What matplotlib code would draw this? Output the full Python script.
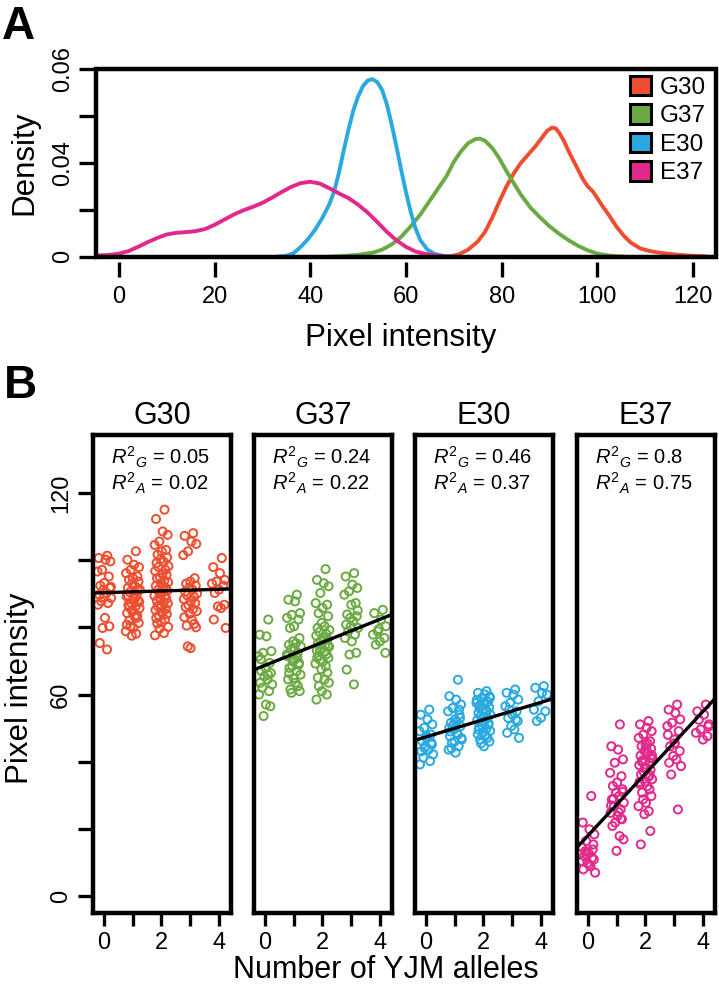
import numpy as np
import matplotlib
matplotlib.use('Agg')
import matplotlib.pyplot as plt
from matplotlib.patches import Patch, Rectangle

plt.rcParams['font.family'] = ['Liberation Sans', 'DejaVu Sans']
plt.rcParams['mathtext.fontset'] = 'custom'
plt.rcParams['mathtext.rm'] = 'Liberation Sans'
plt.rcParams['mathtext.it'] = 'Liberation Sans:italic'

groups = ['G30', 'G37', 'E30', 'E37']
colors = ['#EE4E2F', '#6BAA43', '#2AA9E0', '#E2288A']

# ---- panel A: density curves ----
g30_x = [69, 71, 73, 75, 76.5, 78, 79.5, 81, 82.5, 84, 85.5, 87, 88.5, 89.5, 90.5, 91.3, 92, 93, 94, 95,
         96, 97, 98, 99, 100, 101, 102.5, 104, 105.5, 107, 109, 111, 113, 115, 117, 119, 121, 123]
g30_y = [0.0, 0.0010, 0.0030, 0.0065, 0.0105, 0.0165, 0.0235, 0.0300, 0.0355, 0.0400, 0.0435, 0.0470,
         0.0510, 0.0537, 0.0551, 0.0548, 0.0530, 0.0495, 0.0450, 0.0410, 0.0370, 0.0330, 0.0300, 0.0280,
         0.0250, 0.0218, 0.0175, 0.0128, 0.0090, 0.0060, 0.0035, 0.0024, 0.0017, 0.0012, 0.0008, 0.0005,
         0.0003, 0.0001]

g37_x = [44, 47, 50, 53, 55, 57, 59, 61, 63, 65, 67, 68.5, 70, 71.5, 73, 74.5, 75.5, 76.5, 78, 79.5,
         81, 82.5, 84, 86, 88, 90, 92, 94, 96, 98, 100, 102, 104, 106]
g37_y = [0.0, 0.0003, 0.0008, 0.0017, 0.0030, 0.0052, 0.0085, 0.0130, 0.0180, 0.0240, 0.0300, 0.0345,
         0.0405, 0.0450, 0.0485, 0.0502, 0.0504, 0.0495, 0.0465, 0.0420, 0.0365, 0.0315, 0.0265, 0.0210,
         0.0168, 0.0130, 0.0098, 0.0070, 0.0046, 0.0027, 0.0013, 0.0006, 0.0002, 0.0]

e30_x = [33, 35, 36.5, 38, 39.5, 41, 42.5, 44, 45, 46, 47, 48, 49, 50, 51, 52, 53, 54, 55, 56, 57, 58,
         59, 60, 61, 62, 63, 64.5, 66, 68, 70]
e30_y = [0.0, 0.0004, 0.0015, 0.0042, 0.0075, 0.0115, 0.0165, 0.0225, 0.0280, 0.0360, 0.0455, 0.0545,
         0.0625, 0.0685, 0.0728, 0.0752, 0.0758, 0.0745, 0.0712, 0.0650, 0.0565, 0.0470, 0.0370, 0.0275,
         0.0190, 0.0120, 0.0070, 0.0030, 0.0012, 0.0003, 0.0]

e37_x = [-4.5, -2, 0, 2, 4, 6, 8, 10, 12, 14, 16, 18, 20, 22, 24, 26, 28, 30, 32, 34, 36, 38, 40, 42,
         44, 46, 48, 50, 52, 54, 56, 58, 60, 62, 64, 66, 68, 70]
e37_y = [0.0005, 0.0008, 0.0013, 0.0024, 0.0042, 0.0062, 0.0080, 0.0095, 0.0102, 0.0105, 0.0109, 0.0118,
         0.0136, 0.0158, 0.0180, 0.0198, 0.0213, 0.0230, 0.0252, 0.0276, 0.0298, 0.0314, 0.0320, 0.0312,
         0.0292, 0.0270, 0.0250, 0.0222, 0.0188, 0.0148, 0.0106, 0.0070, 0.0042, 0.0022, 0.0012, 0.0006,
         0.0002, 0.0]

dens_x = [g30_x, g37_x, e30_x, e37_x]
dens_y = [g30_y, g37_y, e30_y, e37_y]

# ---- panel B: pixel intensity by number of YJM alleles (0..4) ----
g30_pts = [
    [101.3, 100.6, 100.1, 99.6, 97.1, 96.6, 95.1, 93.2, 92.4, 91.7, 91.2, 90.2, 89.7, 88.7, 87.7, 87.2,
     86.7, 82.8, 80.3, 79.8, 75.3, 73.4, 92.0, 89.0],
    [102.6, 100.1, 98.6, 97.9, 97.1, 96.1, 95.1, 94.6, 94.1, 93.6, 93.0, 92.2, 91.7, 91.2, 90.4, 89.7,
     89.2, 88.7, 88.0, 87.2, 86.7, 86.2, 85.7, 85.0, 84.2, 83.2, 82.8, 82.1, 81.3, 80.3, 79.8, 78.8,
     78.1, 77.5, 91.0, 89.5, 88.5, 87.5, 86.0, 84.8, 83.5, 80.8],
    [115.0, 112.2, 108.5, 107.5, 105.5, 104.5, 103.0, 102.6, 101.6, 100.8, 100.3, 99.5, 99.1, 98.2,
     97.9, 97.1, 96.7, 95.9, 95.6, 94.8, 94.6, 93.9, 93.4, 93.1, 92.3, 92.0, 91.7, 91.1, 90.9, 90.3,
     90.1, 89.4, 89.3, 88.7, 88.5, 87.9, 87.4, 87.1, 86.3, 86.1, 85.4, 85.1, 84.6, 83.9, 83.5, 82.7,
     82.3, 81.5, 81.1, 80.1, 79.6, 78.3, 77.6],
    [108.0, 107.2, 105.5, 104.8, 102.6, 101.5, 94.6, 93.6, 93.0, 92.4, 91.8, 91.2, 90.6, 90.0, 89.5,
     89.0, 88.4, 87.8, 87.2, 86.6, 86.0, 85.4, 84.8, 84.0, 83.0, 82.2, 81.0, 80.5, 80.0, 74.3, 73.8],
    [100.6, 97.9, 96.1, 94.1, 93.6, 93.0, 92.4, 91.2, 90.2, 86.7, 86.2, 85.7, 82.3, 79.8],
]
g37_pts = [
    [82.3, 77.8, 77.3, 72.9, 72.4, 71.4, 69.4, 68.0, 67.0, 66.4, 65.4, 64.5, 63.5, 63.0, 62.0, 61.0,
     60.0, 57.0, 56.5, 53.6, 70.5, 65.9],
    [89.7, 88.2, 87.7, 84.2, 83.7, 82.8, 82.3, 80.3, 79.8, 76.8, 75.8, 75.3, 74.8, 74.3, 73.4, 72.4,
     71.4, 70.4, 69.4, 68.4, 67.9, 66.9, 65.9, 64.9, 64.5, 63.5, 62.5, 61.5, 61.0, 60.5, 73.9, 71.9,
     70.9, 69.9, 68.9, 66.4],
    [97.3, 94.1, 93.1, 92.2, 90.2, 87.2, 86.7, 85.7, 84.2, 83.3, 81.3, 80.3, 79.8, 79.2, 78.6, 78.0,
     77.5, 77.0, 76.4, 75.9, 75.3, 74.8, 74.2, 73.7, 73.1, 72.6, 72.0, 71.5, 70.9, 70.3, 69.8, 69.2,
     68.4, 67.5, 66.5, 65.0, 64.5, 63.5, 62.5, 61.0, 60.0, 58.5, 76.0, 74.5, 73.0, 71.0],
    [96.1, 95.1, 92.7, 91.7, 90.7, 89.7, 87.2, 86.7, 83.8, 83.3, 82.8, 81.8, 80.8, 79.8, 78.8, 77.8,
     76.8, 75.8, 72.4, 71.9, 67.4, 63.0, 85.0, 80.3],
    [85.2, 84.2, 82.3, 80.3, 78.8, 77.8, 76.8, 75.8, 74.8, 72.4, 79.5],
]
e30_pts = [
    [55.5, 54.0, 52.6, 51.1, 50.1, 49.1, 48.1, 47.1, 46.1, 45.1, 44.6, 43.6, 43.1, 42.2, 41.2, 40.2,
     39.2, 47.6, 45.6, 44.1],
    [64.4, 59.5, 58.5, 57.0, 56.0, 55.0, 54.0, 52.6, 51.6, 50.6, 49.6, 48.6, 47.6, 46.6, 45.6, 44.6,
     43.6, 42.7, 53.0, 51.0, 49.0, 48.0, 47.0, 46.0, 50.0, 52.0, 55.5, 44.0],
    [61.0, 60.5, 60.0, 59.4, 58.9, 58.3, 57.8, 57.2, 56.7, 56.2, 55.6, 55.1, 54.6, 54.0, 53.5, 53.0,
     52.4, 51.9, 51.4, 50.8, 50.3, 49.8, 49.2, 48.7, 48.2, 47.6, 47.1, 46.6, 46.0, 45.5, 44.6, 57.5,
     55.0, 53.0, 51.0, 49.5, 48.0, 59.0, 56.0, 52.0],
    [61.5, 60.5, 60.0, 58.5, 57.5, 56.5, 55.0, 54.0, 53.0, 52.1, 50.6, 49.6, 48.6, 47.1, 55.5, 52.5],
    [62.5, 62.0, 60.5, 60.0, 58.0, 55.5, 55.0, 53.1, 52.1],
]
e37_pts = [
    [29.8, 21.9, 19.9, 18.4, 16.4, 14.8, 13.9, 12.9, 11.9, 10.9, 9.9, 8.9, 8.0, 7.0, 13.4, 11.4, 10.4,
     9.4, 15.4, 12.4],
    [51.1, 44.6, 43.6, 40.7, 39.7, 36.7, 35.7, 33.8, 32.8, 31.8, 30.8, 29.8, 28.8, 27.8, 26.8, 25.8,
     24.8, 23.9, 22.9, 21.9, 20.9, 17.9, 16.9, 13.5, 27.0, 25.0, 23.0, 29.0, 31.0],
    [52.1, 51.1, 50.1, 49.1, 48.1, 47.1, 46.1, 45.1, 44.6, 43.9, 43.2, 42.5, 41.8, 41.1, 40.4, 39.7,
     39.0, 38.3, 37.6, 36.9, 36.2, 35.5, 34.8, 34.1, 33.4, 32.7, 31.8, 30.8, 29.8, 28.8, 27.8, 26.8,
     25.3, 24.4, 19.4, 15.4, 45.5, 42.0, 40.0, 38.0, 36.0, 34.0, 44.0, 41.0],
    [57.0, 55.5, 54.5, 52.6, 51.6, 50.6, 49.1, 46.6, 44.6, 43.2, 41.7, 40.7, 39.7, 38.7, 36.2, 25.8,
     48.0, 45.5],
    [57.0, 55.0, 54.0, 51.1, 49.6, 48.6, 47.6, 46.6, 52.5, 50.5],
]
scatter_pts = [g30_pts, g37_pts, e30_pts, e37_pts]

# horizontal jitter around each allele count
jitter = [0.12, -0.21, 0.05, 0.24, -0.08, -0.26, 0.18, 0.01, -0.15, 0.22, -0.03, 0.09, -0.19, 0.27,
          -0.11, 0.15, -0.24, 0.03, 0.20, -0.06, -0.17, 0.11, 0.26, -0.01, -0.22, 0.07, 0.16, -0.13,
          0.23, -0.09, 0.02, -0.27, 0.13, -0.04, 0.19, -0.18, 0.08, 0.25, -0.14, -0.02, 0.17, -0.23,
          0.04, 0.21, -0.10, -0.20, 0.14, 0.00, -0.16, 0.26, -0.07, 0.10, -0.25, 0.18, -0.12, 0.06,
          0.23, -0.05, -0.19, 0.13]

# regression lines (intercept, slope) and R^2 values
fit_intercept = [90.3, 68.7, 47.4, 18.1]
fit_slope = [0.25, 3.41, 2.56, 9.19]
r2_g = ['0.05', '0.24', '0.46', '0.8']
r2_a = ['0.02', '0.22', '0.37', '0.75']

W, H = 719, 988
fig = plt.figure(figsize=(W / 100, H / 100), dpi=100)

# ---------------- panel A ----------------
axA = fig.add_axes([96 / W, 1 - 256.7 / H, 620 / W, 187.4 / H])
for xs, ys, c in zip(dens_x, dens_y, colors):
    axA.plot(xs, ys, color=c, lw=2.8, solid_joinstyle='round', solid_capstyle='round')
axA.set_xlim(-4.8, 124.8)
axA.set_ylim(0, 0.08)
for s in axA.spines.values():
    s.set_linewidth(0)
axA.spines['bottom'].set_position(('outward', 4))
axA.add_patch(Rectangle((0, 0), 1, 1, transform=axA.transAxes, fill=False, lw=3.2,
                        ec='black', clip_on=False, zorder=5))
axA.set_xticks(range(0, 121, 20))
axA.set_yticks([0, 0.02, 0.04, 0.06, 0.08])
axA.set_yticklabels(['0', '', '0.04', '', '0.06'], rotation=90, va='center')
axA.tick_params(axis='x', direction='out', length=11, width=2.4, pad=6, labelsize=17)
axA.tick_params(axis='y', direction='out', length=12, width=2.4, pad=4, labelsize=17)

handles = [Patch(facecolor=c, edgecolor='black', linewidth=2.2) for c in colors]
axA.legend(handles, groups, loc='upper left', bbox_to_anchor=(0.862, 0.965), frameon=False,
           fontsize=17.5, handlelength=0.85, handleheight=0.85, handletextpad=0.35,
           labelspacing=0.22, borderpad=0, borderaxespad=0)

fig.text(401 / W, 1 - 338 / H, 'Pixel intensity', ha='center', va='center', fontsize=22.5)
fig.text(24 / W, 1 - 163 / H, 'Density', ha='center', va='center', rotation=90, fontsize=22.5)
fig.text(18 / W, 1 - 27 / H, 'A', ha='center', va='center', fontsize=33, weight='bold')

# ---------------- panel B ----------------
lefts = [93, 254, 415, 577]
for i, (name, c) in enumerate(zip(groups, colors)):
    ax = fig.add_axes([lefts[i] / W, 1 - 913 / H, 138 / W, 478 / H])
    for k, ys in enumerate(scatter_pts[i]):
        xs = [k + 0.9 * j for j in jitter[:len(ys)]]
        ax.scatter(xs, ys, s=34, facecolors='none', edgecolors=c, linewidths=1.4, zorder=2)
    ax.axline((0, fit_intercept[i]), slope=fit_slope[i], color='black', lw=2.4, zorder=3)
    ax.set_xlim(-0.39, 4.43)
    ax.set_ylim(-5, 137.2)
    for s in ax.spines.values():
        s.set_linewidth(3.2)
    ax.set_xticks([0, 1, 2, 3, 4])
    ax.set_xticklabels(['0', '', '2', '', '4'])
    ax.tick_params(axis='x', direction='out', length=9, width=2.4, pad=5, labelsize=17)
    if i == 0:
        ax.set_yticks(range(0, 121, 20))
        ax.set_yticklabels(['0', '', '', '60', '', '', '120'], rotation=90, va='center')
        ax.tick_params(axis='y', direction='out', length=11, width=2.4, pad=4, labelsize=17)
    else:
        ax.set_yticks([])
    ax.set_title(name, fontsize=22, pad=8)
    ax.text(0.13, 0.954, r'$R^{2}{}_{G}$ = ' + r2_g[i], transform=ax.transAxes,
            ha='left', va='center', fontsize=14.5)
    ax.text(0.13, 0.898, r'$R^{2}{}_{A}$ = ' + r2_a[i], transform=ax.transAxes,
            ha='left', va='center', fontsize=14.5)

fig.text(20 / W, 1 - 688 / H, 'Pixel intensity', ha='center', va='center', rotation=90, fontsize=22.5)
fig.text(386 / W, 1 - 970 / H, 'Number of YJM alleles', ha='center', va='center', fontsize=22)
fig.text(20 / W, 1 - 386 / H, 'B', ha='center', va='center', fontsize=33, weight='bold')

fig.savefig('out.png', dpi=100)
